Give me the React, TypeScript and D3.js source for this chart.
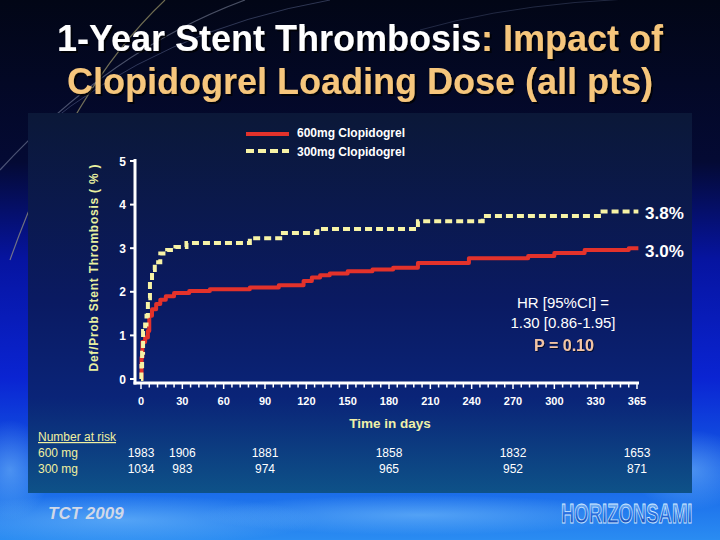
import React from "react";
import * as d3 from "d3";

// ---------- data ----------
const xTickValues = [0, 30, 60, 90, 120, 150, 180, 210, 240, 270, 300, 330, 360];
const xTickLabels = ["0", "30", "60", "90", "120", "150", "180", "210", "240", "270", "300", "330", "365"];
const yTickValues = [0, 1, 2, 3, 4, 5];

const days600 = [0, 0.4, 1, 3, 5, 6, 8, 11, 14, 18, 24, 35, 50, 79, 100, 118, 124, 130, 137, 150, 168, 183, 201, 238, 281, 300, 322, 354, 361];
const vals600 = [0, 0.5, 0.85, 0.95, 1.1, 1.45, 1.6, 1.72, 1.82, 1.9, 1.97, 2.02, 2.06, 2.1, 2.15, 2.25, 2.33, 2.38, 2.42, 2.47, 2.51, 2.55, 2.66, 2.77, 2.82, 2.89, 2.96, 3.0, 3.0];

const days300 = [0, 0.3, 0.8, 1.5, 3, 4, 5, 6.5, 8, 10, 14, 19, 25, 33, 79, 103, 128, 201, 248, 335, 361];
const vals300 = [0, 0.3, 0.6, 1.1, 1.25, 1.45, 1.85, 2.25, 2.5, 2.68, 2.88, 2.96, 3.03, 3.12, 3.23, 3.35, 3.44, 3.62, 3.74, 3.84, 3.84];

const seriesNames = ["600mg Clopidogrel", "300mg Clopidogrel"];
const endLabels = ["3.0%", "3.8%"];

const riskDays = [0, 30, 90, 180, 270, 360];
const atRisk600 = [1983, 1906, 1881, 1858, 1832, 1653];
const atRisk300 = [1034, 983, 974, 965, 952, 871];
const riskRowLabels = ["600 mg", "300 mg"];

const FONT = "'Liberation Sans', Arial, sans-serif";

export default function App() {
  const x = d3.scaleLinear().domain([0, 360]).range([141, 637]);
  const y = d3.scaleLinear().domain([0, 5]).range([379, 161]);
  const line = d3
    .line<[number, number]>()
    .x((d) => x(d[0]))
    .y((d) => y(d[1]))
    .curve(d3.curveStepAfter);

  const d600 = line(days600.map((d, i) => [d, vals600[i]] as [number, number])) || "";
  const d300 = line(days300.map((d, i) => [d, vals300[i]] as [number, number])) || "";
  const minorTicks = d3.range(0, 361, 6);

  const red = "#e3322b";
  const yellow = "#f7f3a6";
  const peach = "#f6c67c";
  const axisY = 383;
  const axisX = 135;

  return (
    <svg
      width={720}
      height={540}
      viewBox="0 0 720 540"
      style={{ position: "fixed", left: 0, top: 0, display: "block" }}
      fontFamily={FONT}
    >
      <defs>
        <linearGradient id="bg" x1="0" y1="0" x2="0" y2="1">
          <stop offset="0" stopColor="#020616" />
          <stop offset="0.3" stopColor="#040a34" />
          <stop offset="0.48" stopColor="#0614a0" />
          <stop offset="0.7" stopColor="#0a24d2" />
          <stop offset="0.87" stopColor="#145ee6" />
          <stop offset="1" stopColor="#2a8cf2" />
        </linearGradient>
        <linearGradient id="panel" x1="0" y1="0" x2="0" y2="1">
          <stop offset="0" stopColor="#0b1838" />
          <stop offset="0.5" stopColor="#0a1a62" />
          <stop offset="0.75" stopColor="#0a2478" />
          <stop offset="1" stopColor="#0e5288" />
        </linearGradient>
        <radialGradient id="cloud" cx="0.5" cy="0.5" r="0.5">
          <stop offset="0" stopColor="#8fd0ff" stopOpacity="0.45" />
          <stop offset="1" stopColor="#8fd0ff" stopOpacity="0" />
        </radialGradient>
        <linearGradient id="logo" x1="0" y1="0" x2="0" y2="1">
          <stop offset="0" stopColor="#9fd8ff" />
          <stop offset="0.5" stopColor="#2a6ee0" />
          <stop offset="1" stopColor="#123a9a" />
        </linearGradient>
        <filter id="shadow" x="-5%" y="-20%" width="110%" height="140%">
          <feDropShadow dx="2" dy="2" stdDeviation="0.6" floodColor="#000" floodOpacity="0.75" />
        </filter>
        <filter id="shadowSmall" x="-5%" y="-20%" width="110%" height="140%">
          <feDropShadow dx="1" dy="1" stdDeviation="0.4" floodColor="#000" floodOpacity="0.6" />
        </filter>
      </defs>

      {/* background */}
      <rect x={0} y={0} width={720} height={540} fill="url(#bg)" />
      <ellipse cx={120} cy={520} rx={200} ry={25} fill="url(#cloud)" />
      <ellipse cx={420} cy={515} rx={220} ry={20} fill="url(#cloud)" />
      <ellipse cx={690} cy={470} rx={60} ry={40} fill="url(#cloud)" />
      <ellipse cx={10} cy={470} rx={40} ry={50} fill="url(#cloud)" />
      <path d="M165,0 Q70,90 10,260" fill="none" stroke="#c8c080" strokeOpacity={0.55} strokeWidth={1.2} />
      <path d="M245,0 Q110,50 0,170" fill="none" stroke="#a0a8c0" strokeOpacity={0.45} strokeWidth={1.2} />
      <path d="M330,0 Q160,30 40,130" fill="none" stroke="#8090c0" strokeOpacity={0.35} strokeWidth={1} />
      <path d="M760,0 Q560,-10 420,30" fill="none" stroke="#8090c0" strokeOpacity={0.25} strokeWidth={1} />

      {/* panel */}
      <rect x={28} y={113} width={664} height={380} fill="url(#panel)" />

      {/* title */}
      <g fontSize={36} fontWeight="bold" textAnchor="middle" filter="url(#shadow)">
        <text x={360} y={51}>
          <tspan fill="#ffffff">1-Year Stent Thrombosis</tspan>
          <tspan fill={peach}>: Impact of</tspan>
        </text>
        <text x={360} y={94} fill={peach}>
          Clopidogrel Loading Dose (all pts)
        </text>
      </g>

      {/* legend */}
      <line x1={246} x2={289} y1={134} y2={134} stroke={red} strokeWidth={4} />
      <line x1={246} x2={289} y1={151} y2={151} stroke={yellow} strokeWidth={4} strokeDasharray="8,4" />
      <text x={297} y={137} fill="#ffffff" fontSize={12} fontWeight="bold">
        {seriesNames[0]}
      </text>
      <text x={297} y={156} fill="#ffffff" fontSize={12} fontWeight="bold">
        {seriesNames[1]}
      </text>

      {/* y axis */}
      <line x1={axisX} x2={axisX} y1={y(5) - 2} y2={axisY + 1.5} stroke="#fff" strokeWidth={3} />
      {yTickValues.map((v) => (
        <g key={"y" + v}>
          <line x1={axisX - 5} x2={axisX} y1={y(v)} y2={y(v)} stroke="#fff" strokeWidth={2} />
          <text x={126} y={y(v) + 4.5} fill="#fff" fontSize={12} fontWeight="bold" textAnchor="end">
            {v}
          </text>
        </g>
      ))}
      <text
        transform="translate(98,268) rotate(-90)"
        textAnchor="middle"
        fill="#e8f0a0"
        fontSize={12}
        fontWeight="bold"
        textLength={207}
        lengthAdjust="spacing"
      >
        Def/Prob Stent Thrombosis ( % )
      </text>

      {/* x axis */}
      <line x1={axisX - 1.5} x2={x(360) + 2} y1={axisY} y2={axisY} stroke="#fff" strokeWidth={3} />
      {minorTicks.map((d) => (
        <line key={"m" + d} x1={x(d)} x2={x(d)} y1={axisY} y2={axisY + (d % 30 === 0 ? 6 : 4.5)} stroke="#fff" strokeWidth={1.5} />
      ))}
      {xTickValues.map((d, i) => (
        <text key={"xl" + d} x={x(d)} y={405} fill="#fff" fontSize={11} fontWeight="bold" textAnchor="middle">
          {xTickLabels[i]}
        </text>
      ))}
      <text x={390} y={428} fill="#f0f0a8" fontSize={13.5} fontWeight="bold" textAnchor="middle">
        Time in days
      </text>

      {/* curves */}
      <path d={d600} fill="none" stroke={red} strokeWidth={4} strokeLinejoin="round" />
      <path d={d300} fill="none" stroke={yellow} strokeWidth={4} strokeDasharray="7,4" />

      {/* end labels */}
      <text x={645} y={y(vals300[vals300.length - 1]) + 7} fill="#fff" fontSize={17} fontWeight="bold">
        {endLabels[1]}
      </text>
      <text x={645} y={y(vals600[vals600.length - 1]) + 9} fill="#fff" fontSize={17} fontWeight="bold">
        {endLabels[0]}
      </text>

      {/* HR annotation */}
      <g textAnchor="middle" fontSize={15}>
        <text x={563} y={308} fill="#fff">HR [95%CI] =</text>
        <text x={563} y={328} fill="#fff">1.30 [0.86-1.95]</text>
        <text x={564} y={351} fill="#f2c4a4" fontWeight="bold" fontSize={16} filter="url(#shadowSmall)">
          P = 0.10
        </text>
      </g>

      {/* number at risk */}
      <text x={38} y={441} fill="#f0f0a0" fontSize={12} textDecoration="underline">
        Number at risk
      </text>
      <text x={38} y={457} fill="#f0f0a0" fontSize={12}>
        {riskRowLabels[0]}
      </text>
      <text x={38} y={473} fill="#f0f0a0" fontSize={12}>
        {riskRowLabels[1]}
      </text>
      {riskDays.map((d, i) => (
        <g key={"r" + d} fontSize={12} fill="#fff" textAnchor="middle">
          <text x={x(d)} y={457}>{atRisk600[i]}</text>
          <text x={x(d)} y={473}>{atRisk300[i]}</text>
        </g>
      ))}

      {/* footer */}
      <text x={48} y={519} fill="#d0d8e8" fontSize={17} fontWeight="bold" fontStyle="italic">
        TCT 2009
      </text>
      <text
        transform="translate(561,523) scale(1,1.45)"
        x={0}
        y={0}
        fill="url(#logo)"
        stroke="#cfe8ff"
        strokeWidth={0.6}
        fontSize={18.5}
        fontWeight="bold"
      >
        HORIZONSAMI
      </text>
    </svg>
  );
}
